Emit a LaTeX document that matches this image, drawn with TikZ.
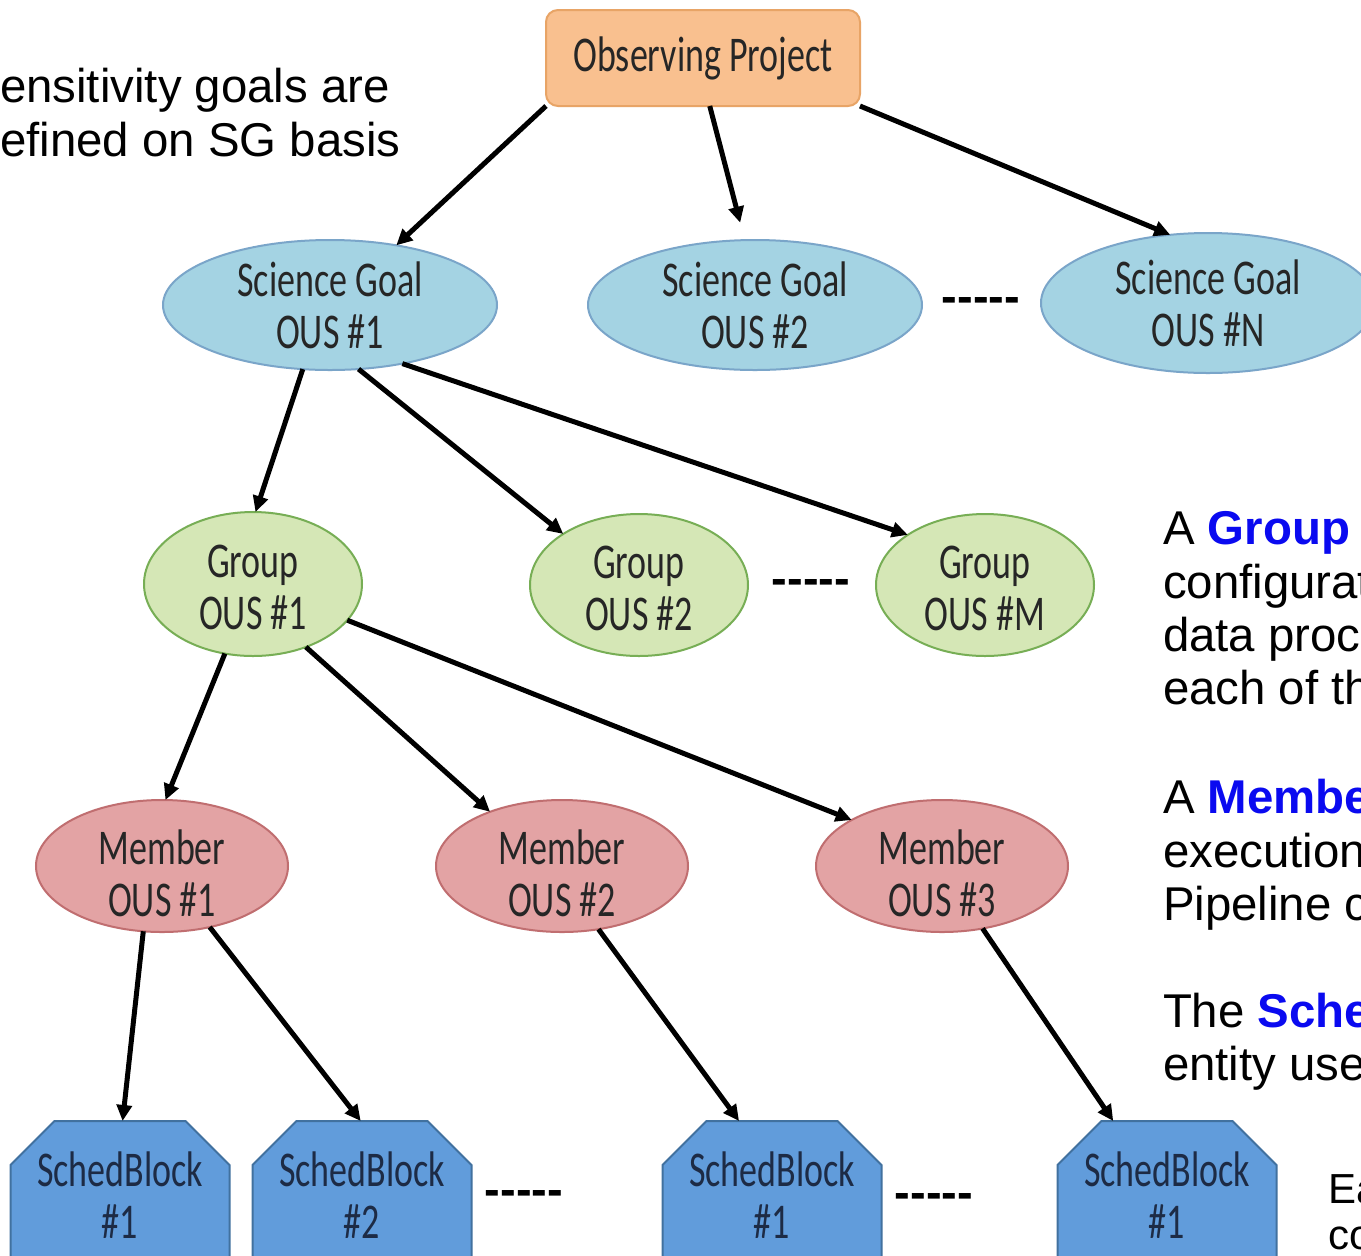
\documentclass[tikz,border=0pt]{standalone}
\usepackage{fontspec}
\setmainfont{Liberation Sans}
\newfontfamily\diagfont[FakeStretch=0.72]{Carlito}
\usetikzlibrary{arrows.meta,shapes.geometric,shapes.misc}
\definecolor{opfill}{HTML}{F9C08F}
\definecolor{opdraw}{HTML}{E8A466}
\definecolor{sgfill}{HTML}{A4D3E3}
\definecolor{sgdraw}{HTML}{7AA5C9}
\definecolor{grfill}{HTML}{D5E7B6}
\definecolor{grdraw}{HTML}{77AE55}
\definecolor{mbfill}{HTML}{E3A3A4}
\definecolor{mbdraw}{HTML}{C06E70}
\definecolor{sbfill}{HTML}{619CDB}
\definecolor{sbdraw}{HTML}{41719F}
\definecolor{nodetext}{HTML}{262626}
\definecolor{sbtext}{HTML}{1D2B45}
\definecolor{hlblue}{HTML}{0A0AF0}
\newcommand{\grtop}{\rule{0pt}{20pt}}
\newcommand{\mbtop}{\rule{0pt}{24.5pt}}
\begin{document}
\begin{tikzpicture}[x=0.5pt,y=-0.5pt,
  every node/.style={inner sep=0pt, outer sep=0pt},
  diag/.style={align=center, font=\diagfont\fontsize{25}{26}\selectfont, text=nodetext, line width=1pt},
  opbox/.style={diag, rectangle, rounded corners=6pt, fill=opfill, draw=opdraw, minimum width=157pt, minimum height=48pt},
  sgnode/.style={diag, ellipse, fill=sgfill, draw=sgdraw, minimum width=167pt, minimum height=65pt},
  grnode/.style={diag, ellipse, fill=grfill, draw=grdraw, minimum width=109pt, minimum height=71pt, inner ysep=-3pt},
  mbnode/.style={diag, ellipse, fill=mbfill, draw=mbdraw, minimum width=126pt, minimum height=66pt, inner ysep=-5pt},
  sbnode/.style={diag, chamfered rectangle, chamfered rectangle corners={north west,north east}, chamfered rectangle sep=11pt, fill=sbfill, draw=sbdraw, text=sbtext, minimum width=109.5pt, minimum height=74pt},
  link/.style={line width=2.5pt, -{Triangle[length=8pt,width=7.5pt]}},
  sidetext/.style={font=\fontsize{23.7}{27}\selectfont, anchor=base west},
  smalltext/.style={font=\fontsize{21}{24}\selectfont, anchor=base west},
  dashes/.style={font=\bfseries\fontsize{23.5}{27}\selectfont, anchor=base},
]
\useasboundingbox (0,0) rectangle (1361,1255);
\clip (0,0) rectangle (1361,1255);
\fill[white] (0,0) rectangle (1361,1255);

% nodes
\node[opbox] (op) at (703,58) {Observing Project};
\node[sgnode] (sg1) at (330,305) {Science Goal\\OUS \#1};
\node[sgnode] (sg2) at (755,305) {Science Goal\\OUS \#2};
\node[sgnode, minimum height=70pt] (sgn) at (1208,303) {Science Goal\\OUS \#N};
\node[grnode, minimum height=72pt] (g1) at (253,584) {\grtop Group\\OUS \#1};
\node[grnode] (g2) at (639,585) {\grtop Group\\OUS \#2};
\node[grnode] (gm) at (985,585) {\grtop Group\\OUS \#M};
\node[mbnode] (m1) at (162,866) {\mbtop Member\\OUS \#1};
\node[mbnode] (m2) at (562,866) {\mbtop Member\\OUS \#2};
\node[mbnode] (m3) at (942,866) {\mbtop Member\\OUS \#3};
\node[sbnode] (sb1) at (120,1195) {SchedBlock\\\#1};
\node[sbnode] (sb2) at (362,1195) {SchedBlock\\\#2};
\node[sbnode] (sb3) at (772,1195) {SchedBlock\\\#1};
\node[sbnode] (sb4) at (1167,1195) {SchedBlock\\\#1};

% dashes
\node[dashes] (d1) at (981,312) {-\kern0pt-\kern0pt-\kern0pt-\kern0pt-};
\node[dashes] (d2) at (811,594) {-\kern0pt-\kern0pt-\kern0pt-\kern0pt-};
\node[dashes] (d3) at (524,1205) {-\kern0pt-\kern0pt-\kern0pt-\kern0pt-};
\node[dashes] (d4) at (934,1208) {-\kern0pt-\kern0pt-\kern0pt-\kern0pt-};

% connectors
\draw[link] (op.197) -- (sg1.42);
\draw[link, shorten >=9pt] (op.278) -- (sg2.99);
\draw[link] (op.343) -- (sgn.119);
\draw[link] (sg1.247) -- (g1.88);
\draw[link] (sg1.294) -- (g2.146);
\draw[link] (sg1.321) -- (gm.147);
\draw[link] (g1.248) -- (m1.87);
\draw[link] (g1.310) -- (m2.143);
\draw[link] (g1.339) -- (m3.153);
\draw[link] (m1.254) -- (sb1.88);
\draw[link] (m1.308) -- (sb2.91);
\draw[link] (m2.300) -- (sb3.114);
\draw[link] (m3.303) -- (sb4.126);

% side texts
\node[sidetext] (l1) at (0,102) {ensitivity goals are};
\node[sidetext] (l2) at (0,156) {efined on SG basis};
\node[sidetext] (r1) at (1163,544) {A {\bfseries\color{hlblue}Group}};
\node[sidetext] (r2) at (1163,598) {configurat};
\node[sidetext] (r3) at (1163,651) {data proc};
\node[sidetext] (r4) at (1163,704) {each of th};
\node[sidetext] (r5) at (1163,813) {A {\bfseries\color{hlblue}Membe}};
\node[sidetext] (r6) at (1163,867) {execution};
\node[sidetext] (r7) at (1163,920) {Pipeline c};
\node[sidetext] (r8) at (1163,1027) {The {\bfseries\color{hlblue}Sche}};
\node[sidetext] (r9) at (1163,1080) {entity use};
\node[smalltext] (e1) at (1328,1203) {Ea};
\node[smalltext] (e2) at (1328,1249) {co};
\end{tikzpicture}
\end{document}
